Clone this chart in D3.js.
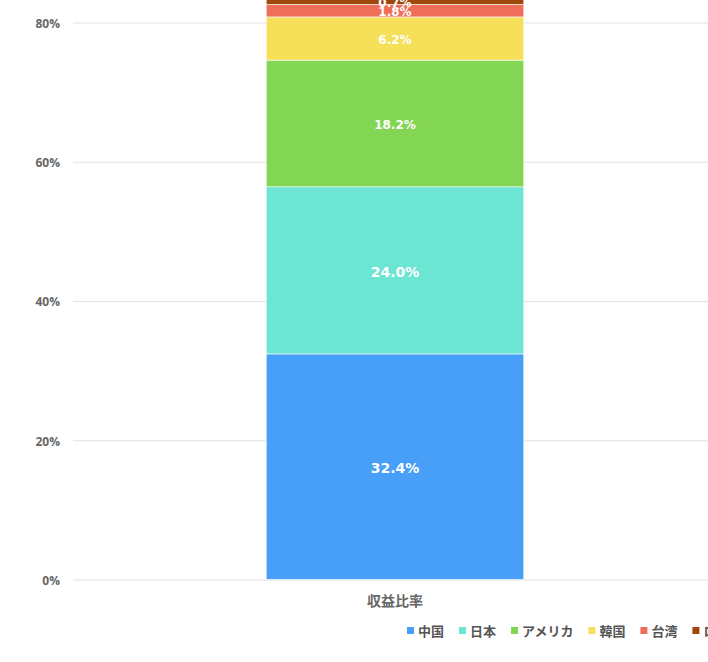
<!DOCTYPE html>
<html><head><meta charset="utf-8">
<script src="https://cdn.jsdelivr.net/npm/d3@7/dist/d3.min.js"></script>
<style>body{margin:0;background:#fff;} svg{display:block;}</style>
</head><body>
<svg id="c" width="708" height="662"></svg>
<script>
const categories = ["収益比率"];
const seriesNames = ["中国", "日本", "アメリカ", "韓国", "台湾", "ロシア"];
const seriesValues = [32.4, 24.0, 18.2, 6.2, 1.8, 0.7];
const seriesColors = ["#479ff8", "#6ce5d2", "#83d554", "#f6e05a", "#ee6e5a", "#a0470c"];
const tickValues = [0, 20, 40, 60, 80];

const svg = d3.select("#c");
const y = d3.scaleLinear().domain([0, 80]).range([579.5, 22.5]);
const x = d3.scaleBand().domain(categories).range([73, 717]).paddingInner(0.6).paddingOuter(0.3);

// grid
const yAxis = d3.axisLeft(y).tickValues(tickValues).tickFormat(d => d + "%").tickSize(-(708 - 73)).tickPadding(13);
const gy = svg.append("g").attr("transform", "translate(73,0)").call(yAxis);
gy.select(".domain").remove();
gy.selectAll(".tick line").attr("stroke", "#e2e2e2").attr("stroke-width", 1);
gy.selectAll(".tick text").attr("fill", "#666").attr("font-family", "'Open Sans', sans-serif")
  .attr("font-weight", "bold").attr("font-size", 12).attr("dy", "0.4em");

// stack
const row = {cat: categories[0]};
seriesNames.forEach((n, i) => row[n] = seriesValues[i]);
const stack = d3.stack().keys(seriesNames)([row]);

const g = svg.append("g");
stack.forEach((s, i) => {
  const d = s[0];
  g.append("rect")
    .attr("x", x(categories[0]))
    .attr("width", x.bandwidth())
    .attr("y", y(d[1]))
    .attr("height", y(d[0]) - y(d[1]))
    .attr("fill", seriesColors[i])
    .attr("stroke", "#fff").attr("stroke-width", 0.6);
});
stack.forEach((s, i) => {
  const d = s[0];
  const v = seriesValues[i];
  g.append("text")
    .attr("x", x(categories[0]) + x.bandwidth() / 2)
    .attr("y", y((d[0] + d[1]) / 2))
    .attr("dy", "0.45em")
    .attr("text-anchor", "middle")
    .attr("fill", "#fff")
    .attr("font-family", "'DejaVu Sans', sans-serif")
    .attr("font-weight", "bold")
    .attr("font-size", v > 20 ? 14 : 12)
    .text(v.toFixed(1) + "%");
});

// x axis category label
svg.append("text")
  .attr("x", x(categories[0]) + x.bandwidth() / 2)
  .attr("y", 606)
  .attr("text-anchor", "middle")
  .attr("fill", "#666")
  .attr("font-family", "'Noto Sans CJK JP', sans-serif")
  .attr("font-weight", "bold")
  .attr("font-size", 14)
  .text(categories[0]);

// legend
let lx = 407;
const lg = svg.append("g");
seriesNames.forEach((n, i) => {
  lg.append("rect").attr("x", lx).attr("y", 627).attr("width", 7).attr("height", 7).attr("fill", seriesColors[i]);
  const t = lg.append("text").attr("x", lx + 11).attr("y", 636)
    .attr("fill", "#555")
    .attr("font-family", "'Noto Sans CJK JP', sans-serif")
    .attr("font-weight", "bold")
    .attr("font-size", 13)
    .text(n);
  lx += 11 + t.node().getComputedTextLength() + 15;
});
</script>
</body></html>
